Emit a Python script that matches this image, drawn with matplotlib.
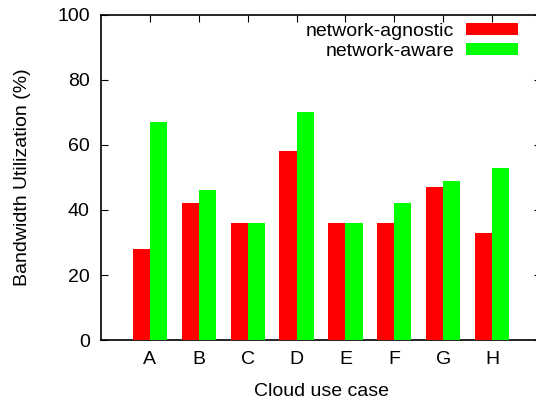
import numpy as np
import matplotlib.pyplot as plt

plt.rcParams['font.family'] = ['Liberation Sans', 'DejaVu Sans']

# bandwidth utilisation per use case
cases = ['A', 'B', 'C', 'D', 'E', 'F', 'G', 'H']
agnostic = [28, 42, 36, 58, 36, 36, 47, 33]
aware = [67, 46, 36, 70, 36, 42, 49, 53]

fig = plt.figure(figsize=(5.36, 4.04), dpi=100)
ax = fig.add_axes([0.1884, 0.1584, 0.821, 0.8045])

x = np.arange(len(cases))
w = 0.35
ax.bar(x - w / 2, agnostic, w, color='#ff0000', label='network-agnostic', zorder=3)
ax.bar(x + w / 2, aware, w, color='#00ff00', label='network-aware', zorder=3)

ax.set_xlim(-1, 8)
ax.set_ylim(0, 100)
ax.set_xticks(x)
ax.set_xticklabels(cases)
ax.set_yticks(range(0, 101, 20))
ax.tick_params(direction='in', top=True, right=True, labelsize=14, length=5, pad=8)
ax.tick_params(axis='x', pad=8)
for s in ax.spines.values():
    s.set_linewidth(1.2)

ax.set_xlabel('Cloud use case', fontsize=14, labelpad=11)
ax.set_ylabel('Bandwidth Utilization (%)', fontsize=14, labelpad=19)

leg = ax.legend(loc='upper right', bbox_to_anchor=(0.966, 1.0), frameon=False, fontsize=14,
                markerfirst=False, handlelength=2.7, handleheight=0.6, handletextpad=0.6,
                labelspacing=0.15, borderaxespad=0.0)
for t in leg.get_texts():
    t.set_ha('right')

fig.savefig('out.png')
